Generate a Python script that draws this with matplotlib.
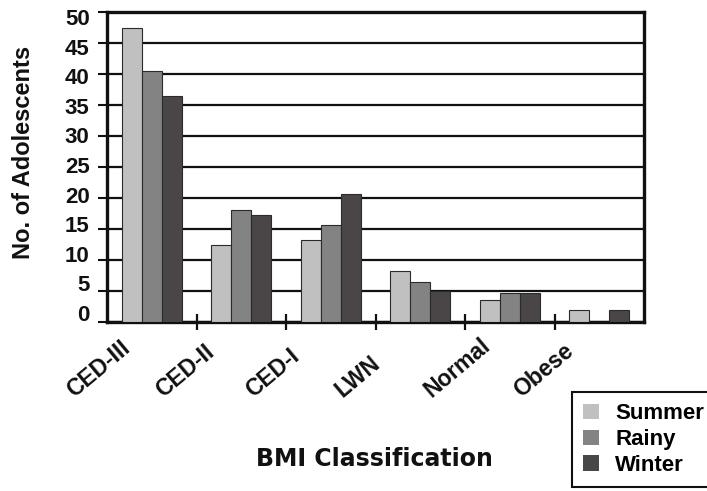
import matplotlib
matplotlib.use("Agg")
import matplotlib.pyplot as plt
import matplotlib.transforms as mtransforms
import numpy as np

categories = ["CED-III", "CED-II", "CED-I", "LWN", "Normal", "Obese"]
series_names = ["Summer", "Rainy", "Winter"]
summer = [47.5, 12.5, 13.3, 8.3, 3.5, 2.0]
rainy = [40.5, 18.0, 15.7, 6.4, 4.6, 0.0]
winter = [36.5, 17.3, 20.7, 5.0, 4.6, 2.0]
y_ticks = [0, 5, 10, 15, 20, 25, 30, 35, 40, 45, 50]

colors = ["#c0c0c0", "#838383", "#4a4546"]
FONT = "Liberation Sans"

fig = plt.figure(figsize=(7.07, 4.91), dpi=100)
ax = fig.add_axes([107/707, 1-322/491, (644-107)/707, (322-12)/491])

x = np.arange(len(categories))
w = 0.2235
for k, (vals, c, name) in enumerate(zip([summer, rainy, winter], colors, series_names)):
    ax.bar(x + (k-1)*w, vals, width=w, color=c, edgecolor="#2b2b2b",
           linewidth=0.8, label=name, zorder=3)

ax.set_xlim(-0.5, len(categories)-0.5)
ax.set_ylim(0, 50)
ax.set_yticks(y_ticks)
ax.set_yticklabels([str(t) for t in y_ticks], fontfamily=FONT,
                   fontweight="bold", fontsize=16, color="#111111")
ax.yaxis.grid(True, color="#111111", linewidth=1.6, zorder=1)
ax.set_axisbelow(True)
ax.tick_params(axis="y", direction="out", length=6.5, width=1.5,
               color="#111111", pad=6)
# the labels drift slightly relative to the gridlines, as in the original
for t, lab in zip(y_ticks, ax.get_yticklabels()):
    dy = (9 - 14 * t / 50) / 100.0
    lab.set_transform(lab.get_transform() +
                      mtransforms.ScaledTranslation(0, dy, fig.dpi_scale_trans))

# boundary tick marks on x axis
ax.set_xticks([])
ax.set_xticks(np.arange(0.5, len(categories)-0.5, 1.0), minor=True)
ax.tick_params(axis="x", which="minor", direction="inout", length=12,
               width=1.6, color="#111111", labelbottom=False)

for sp in ax.spines.values():
    sp.set_linewidth(2.4)
    sp.set_color("#111111")

# rotated category labels
trans = mtransforms.blended_transform_factory(ax.transData, ax.transAxes)
for i, lab in enumerate(categories):
    ax.text(i - 0.87, -0.245, lab, transform=trans, rotation=40,
            rotation_mode="anchor", ha="left", va="baseline",
            fontfamily=FONT, fontweight="bold", fontsize=16.5, color="#111111")

fig.text(24/707, 1-152/491, "No. of Adolescents", rotation=90, ha="center",
         va="center", fontfamily=FONT, fontweight="bold", fontsize=17,
         color="#111111")
fig.text(374/707, 1-459/491, "BMI Classification", ha="center", va="center",
         fontfamily="DejaVu Sans", fontweight="bold", fontsize=17,
         color="#111111")

leg = fig.legend(loc="upper left", bbox_to_anchor=(572/707, 1-392/491),
                 bbox_transform=fig.transFigure, borderaxespad=0,
                 fancybox=False, framealpha=1, edgecolor="#111111",
                 prop={"family": FONT, "weight": "bold", "size": 16},
                 handlelength=0.72, handleheight=0.68, labelspacing=0.22,
                 borderpad=0.5, handletextpad=0.72)
leg.get_frame().set_linewidth(1.5)
for h in leg.legend_handles:
    h.set_edgecolor("none")

fig.savefig("out.png", dpi=100)
